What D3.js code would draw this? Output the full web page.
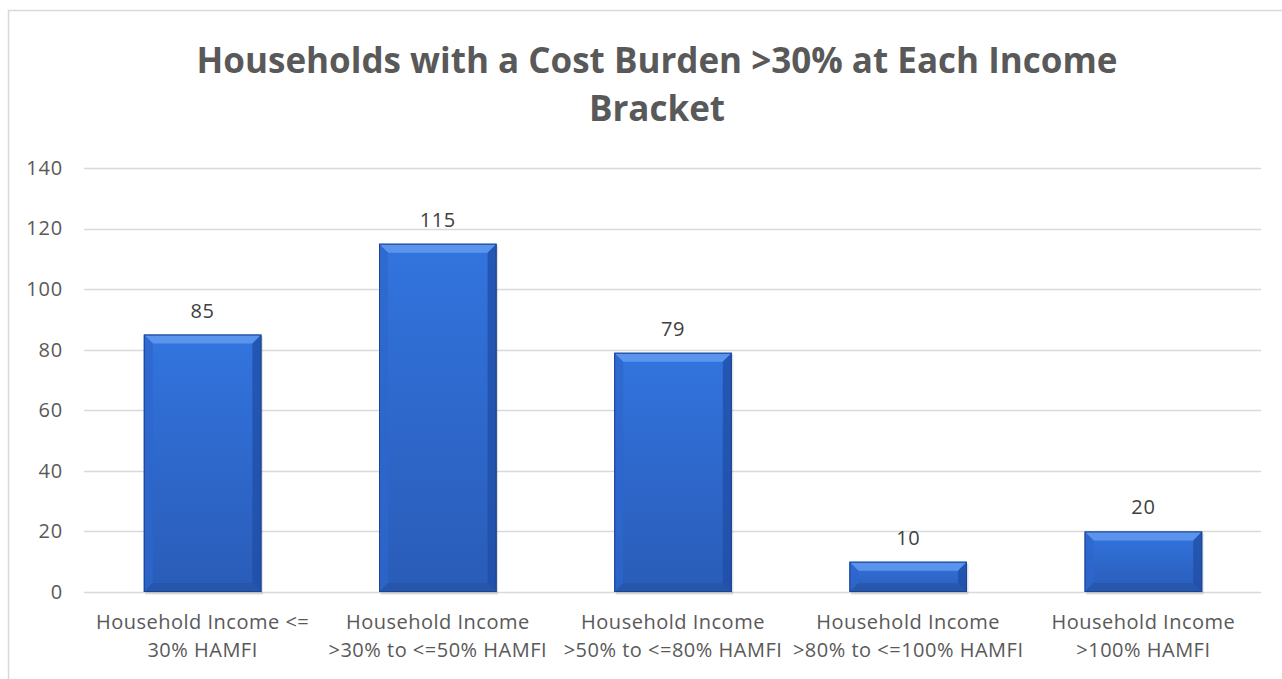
<!DOCTYPE html>
<html><head><meta charset="utf-8">
<script src="https://cdn.jsdelivr.net/npm/d3@7"></script>
<style>html,body{margin:0;padding:0;background:#fff;overflow:hidden}svg{display:block;font-family:"Open Sans",Lato,sans-serif}</style>
</head><body>
<svg id="c" width="1282" height="679"></svg>
<script>
const categories = [
  ["Household Income <=", "30% HAMFI"],
  ["Household Income", ">30% to <=50% HAMFI"],
  ["Household Income", ">50% to <=80% HAMFI"],
  ["Household Income", ">80% to <=100% HAMFI"],
  ["Household Income", ">100% HAMFI"]
];
const values = [85, 115, 79, 10, 20];
const yTicks = [0, 20, 40, 60, 80, 100, 120, 140];
const titleLines = ["Households with a Cost Burden >30% at Each Income", "Bracket"];

const svg = d3.select("#c");
const m = {left: 85, right: 1261, top: 168, bottom: 592};
const FONT = "'Open Sans', Lato, sans-serif";

// chart border
svg.append("path").attr("d", "M8.5,690V10.5H1300").attr("fill", "none").attr("stroke", "#d9d9d9").attr("stroke-width", 1.5);

const x = d3.scaleBand().domain(d3.range(values.length)).range([m.left, m.right]).paddingInner(0.5).paddingOuter(0.25);
const y = d3.scaleLinear().domain([0, 140]).range([m.bottom, m.top]);

// gridlines
svg.append("g").selectAll("line").data(yTicks).join("line")
  .attr("x1", m.left - 1).attr("x2", m.right)
  .attr("y1", d => Math.round(y(d)) + 0.5).attr("y2", d => Math.round(y(d)) + 0.5)
  .attr("stroke", "#d9d9d9").attr("stroke-width", 1.3);

// y axis labels
const ya = svg.append("g").attr("transform", `translate(${m.left},0)`)
  .call(d3.axisLeft(y).tickValues(yTicks).tickSize(0).tickPadding(22));
ya.select(".domain").remove();
ya.selectAll("text").attr("font-size", 20).attr("letter-spacing", 0.8).attr("fill", "#595959").attr("font-family", FONT);

// gradient defs
const defs = svg.append("defs");
const g1 = defs.append("linearGradient").attr("id", "face").attr("x1", 0).attr("y1", 0).attr("x2", 0).attr("y2", 1);
g1.append("stop").attr("offset", "0%").attr("stop-color", "#3274de");
g1.append("stop").attr("offset", "100%").attr("stop-color", "#2a5cb8");

const bev = 9;
const bars = svg.append("g").selectAll("g").data(values).join("g");
bars.each(function(v, i) {
  const g = d3.select(this);
  const x0 = x(i), w = x.bandwidth(), y0 = y(v), y1 = y(0), h = y1 - y0;
  const b = Math.min(bev, h / 2);
  // shadow
  g.append("rect").attr("x", x0 + 1.5).attr("y", y0 + 1.5).attr("width", w).attr("height", h + 1).attr("fill", "#000").attr("opacity", 0.12);
  g.append("rect").attr("x", x0).attr("y", y0).attr("width", w).attr("height", h).attr("fill", "url(#face)");
  // top bevel
  g.append("path").attr("d", `M${x0},${y0}H${x0+w}L${x0+w-b},${y0+b}H${x0+b}Z`).attr("fill", "#5b94ec");
  // left bevel
  g.append("path").attr("d", `M${x0},${y0}L${x0+b},${y0+b}V${y1-b}L${x0},${y1}Z`).attr("fill", "#2d66cc").attr("opacity", 0.7);
  // right bevel
  g.append("path").attr("d", `M${x0+w},${y0}L${x0+w-b},${y0+b}V${y1-b}L${x0+w},${y1}Z`).attr("fill", "#1f4ea6").attr("opacity", 0.75);
  // bottom bevel
  g.append("path").attr("d", `M${x0},${y1}L${x0+b},${y1-b}H${x0+w-b}L${x0+w},${y1}Z`).attr("fill", "#21509f").attr("opacity", 0.5);
  g.append("rect").attr("x", x0 + 0.5).attr("y", y0 + 0.5).attr("width", w - 1).attr("height", h - 1).attr("fill", "none").attr("stroke", "#1d4390").attr("stroke-width", 1);
  // value label
  g.append("text").attr("x", x0 + w / 2).attr("y", y0 - 17).attr("text-anchor", "middle")
    .attr("font-size", 20).attr("letter-spacing", 0.6).attr("fill", "#404040").text(v);
});

// category labels
const xl = svg.append("g");
categories.forEach((lines, i) => {
  const t = xl.append("text").attr("text-anchor", "middle").attr("font-size", 20).attr("letter-spacing", 0.5).attr("fill", "#595959");
  lines.forEach((ln, j) => {
    t.append("tspan").attr("x", x(i) + x.bandwidth() / 2).attr("y", 629 + j * 28).text(ln);
  });
});

// title
const tt = svg.append("text").attr("text-anchor", "middle").attr("font-size", 35).attr("font-weight", "bold").attr("fill", "#595959");
titleLines.forEach((ln, j) => tt.append("tspan").attr("x", 657).attr("y", 73 + j * 48).text(ln));
</script>
</body></html>
